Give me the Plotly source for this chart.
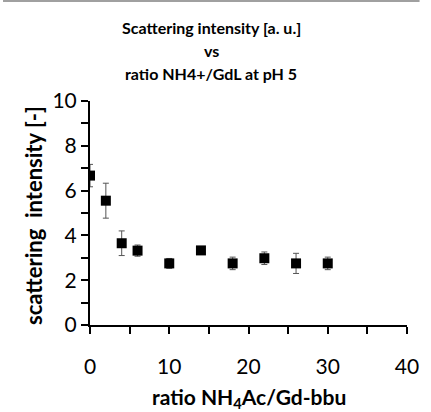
import plotly.graph_objects as go

ratio = [0, 2, 4, 6, 10, 14, 18, 22, 26, 30]
intensity = [6.67, 5.55, 3.65, 3.32, 2.75, 3.33, 2.75, 2.98, 2.75, 2.75]
err = [0.5, 0.78, 0.55, 0.25, 0.22, 0.15, 0.28, 0.28, 0.45, 0.28]
x_ticks = [0, 5, 10, 15, 20, 25, 30, 35, 40]
x_ticktext = ["0", "", "10", "", "20", "", "30", "", "40"]
y_ticks = [0, 1, 2, 3, 4, 5, 6, 7, 8, 9, 10]
y_ticktext = ["0", "", "2", "", "4", "", "6", "", "8", "", "10"]
title_lines = ["Scattering intensity [a. u.]", "vs", "ratio NH4+/GdL at pH 5"]
x_title = "ratio NH<sub>4</sub>Ac/Gd-bbu"
y_title = "scattering  intensity [-]"

W, H = 431, 412
L, R, T, B = 90, 13, 101, 87
pw, ph = W - L - R, H - T - B

font = "Lato"

fig = go.Figure()
fig.add_trace(go.Scatter(
    x=ratio, y=intensity, mode="markers",
    marker=dict(symbol="square", size=10, color="black"),
    error_y=dict(type="data", array=err, visible=True, color="#555555",
                 thickness=1, width=3),
    showlegend=False,
))

def px_to_paper_x(px):
    return (px - L) / pw

def px_to_paper_y(py):
    return (H - B - py) / ph

for txt, yc in zip(title_lines, [28, 51, 73]):
    fig.add_annotation(text="<b>%s</b>" % txt, xref="paper", yref="paper",
                       x=px_to_paper_x(W / 2), y=px_to_paper_y(yc),
                       xanchor="center", yanchor="middle", showarrow=False,
                       font=dict(family=font, size=16, color="black"))

fig.add_annotation(text="<b>%s</b>" % x_title, xref="paper", yref="paper",
                   x=px_to_paper_x(255), y=px_to_paper_y(398),
                   xanchor="center", yanchor="middle", showarrow=False,
                   font=dict(family=font, size=21, color="black"))
fig.add_annotation(text="<b>%s</b>" % y_title, xref="paper", yref="paper",
                   x=px_to_paper_x(31), y=px_to_paper_y(215), textangle=-90,
                   xanchor="center", yanchor="middle", showarrow=False,
                   font=dict(family=font, size=22, color="black"))

fig.add_shape(type="line", xref="paper", yref="paper",
              x0=px_to_paper_x(0), x1=px_to_paper_x(W),
              y0=px_to_paper_y(1), y1=px_to_paper_y(1),
              line=dict(color="#a0a0a0", width=2))

fig.update_layout(
    width=W, height=H,
    margin=dict(l=L, r=R, t=T, b=B),
    plot_bgcolor="white", paper_bgcolor="white",
    font=dict(family=font, color="black"),
    xaxis=dict(range=[0, 40], tickmode="array", tickvals=x_ticks, ticktext=x_ticktext,
               showline=True, linecolor="black", linewidth=2,
               ticks="outside", ticklen=7, tickwidth=2, tickcolor="black",
               showgrid=False, zeroline=False, ticklabelstandoff=15,
               tickfont=dict(family=font, size=21, color="black")),
    yaxis=dict(range=[0, 10], tickmode="array", tickvals=y_ticks, ticktext=y_ticktext,
               showline=True, linecolor="black", linewidth=2,
               ticks="outside", ticklen=7, tickwidth=2, tickcolor="black",
               showgrid=False, zeroline=False, ticksuffix="\u00a0\u00a0",
               tickfont=dict(family=font, size=21, color="black")),
)

fig.write_html("out.html")
